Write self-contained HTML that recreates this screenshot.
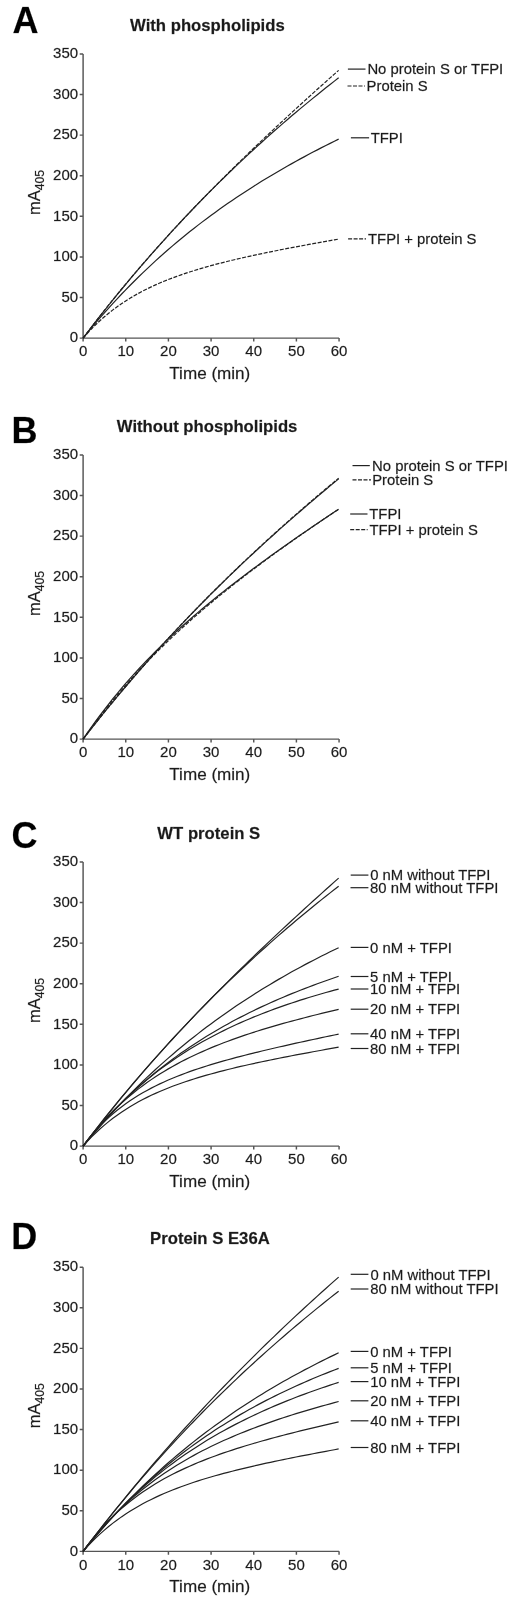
<!DOCTYPE html>
<html><head><meta charset="utf-8"><title>Figure</title>
<style>html,body{margin:0;padding:0;background:#fff;}svg{display:block;will-change:transform;}text{font-family:"Liberation Sans",sans-serif;fill:#1a1a1a;stroke:#222;stroke-width:0.35px;stroke-opacity:0.55;}.tk{font-size:15.0px;}.lg{font-size:14.85px;}.lb{font-size:17.1px;}.tt{font-size:16.7px;font-weight:bold;}.pl{font-size:36px;font-weight:bold;fill:#000;}.ax{stroke:#555;stroke-width:1.45;fill:none;}.cv{stroke:#222;stroke-width:1.2;fill:none;}.ds{stroke-dasharray:4 1.5;}</style></head><body>
<svg width="520" height="1603" viewBox="0 0 520 1603">
<rect width="520" height="1603" fill="#fff"/>
<g>
<text class="pl" x="12.5" y="33.2">A</text>
<text class="tt" x="207.4" y="30.6" text-anchor="middle">With phospholipids</text>
<path class="ax" d="M83.10 53.90V338.10H339.06M79.70 338.10H83.10M79.70 297.50H83.10M79.70 256.90H83.10M79.70 216.30H83.10M79.70 175.70H83.10M79.70 135.10H83.10M79.70 94.50H83.10M79.70 53.90H83.10M83.10 338.10V341.50M125.76 338.10V341.50M168.42 338.10V341.50M211.08 338.10V341.50M253.74 338.10V341.50M296.40 338.10V341.50M339.06 338.10V341.50"/>
<text class="tk" x="78.1" y="342.4" text-anchor="end">0</text>
<text class="tk" x="78.1" y="301.8" text-anchor="end">50</text>
<text class="tk" x="78.1" y="261.2" text-anchor="end">100</text>
<text class="tk" x="78.1" y="220.6" text-anchor="end">150</text>
<text class="tk" x="78.1" y="180.0" text-anchor="end">200</text>
<text class="tk" x="78.1" y="139.4" text-anchor="end">250</text>
<text class="tk" x="78.1" y="98.8" text-anchor="end">300</text>
<text class="tk" x="78.1" y="58.2" text-anchor="end">350</text>
<text class="tk" x="83.1" y="356.3" text-anchor="middle">0</text>
<text class="tk" x="125.8" y="356.3" text-anchor="middle">10</text>
<text class="tk" x="168.4" y="356.3" text-anchor="middle">20</text>
<text class="tk" x="211.1" y="356.3" text-anchor="middle">30</text>
<text class="tk" x="253.7" y="356.3" text-anchor="middle">40</text>
<text class="tk" x="296.4" y="356.3" text-anchor="middle">50</text>
<text class="tk" x="339.1" y="356.3" text-anchor="middle">60</text>
<text class="lb" x="209.8" y="379.0" text-anchor="middle">Time (min)</text>
<text class="lb" style="font-size:16.5px" transform="translate(40.1 215.0) rotate(-90)">mA<tspan dy="3.5" font-size="12.2">405</tspan></text>
<polyline class="cv" points="83.10,338.10 87.36,332.50 91.62,326.94 95.88,321.44 100.14,315.99 104.39,310.59 108.65,305.25 112.91,299.95 117.17,294.70 121.43,289.50 125.69,284.34 129.95,279.24 134.21,274.18 138.47,269.17 142.73,264.20 146.99,259.28 151.24,254.41 155.50,249.57 159.76,244.79 164.02,240.04 168.28,235.34 172.54,230.69 176.80,226.07 181.06,221.50 185.32,216.96 189.57,212.47 193.83,208.02 198.09,203.61 202.35,199.24 206.61,194.91 210.87,190.61 215.13,186.36 219.39,182.14 223.65,177.96 227.91,173.81 232.16,169.71 236.42,165.63 240.68,161.60 244.94,157.60 249.20,153.63 253.46,149.70 257.72,145.81 261.98,141.95 266.24,138.12 270.50,134.32 274.75,130.56 279.01,126.83 283.27,123.13 287.53,119.47 291.79,115.83 296.05,112.23 300.31,108.65 304.57,105.11 308.83,101.60 313.09,98.11 317.35,94.66 321.60,91.24 325.86,87.84 330.12,84.47 334.38,81.14 338.64,77.82"/>
<polyline class="cv ds" points="83.10,338.10 87.36,332.42 91.62,326.81 95.88,321.26 100.14,315.78 104.39,310.35 108.65,304.99 112.91,299.69 117.17,294.44 121.43,289.25 125.69,284.11 129.95,279.03 134.21,273.99 138.47,269.00 142.73,264.06 146.99,259.17 151.24,254.32 155.50,249.51 159.76,244.75 164.02,240.03 168.28,235.34 172.54,230.70 176.80,226.09 181.06,221.52 185.32,216.99 189.57,212.49 193.83,208.02 198.09,203.58 202.35,199.18 206.61,194.80 210.87,190.46 215.13,186.14 219.39,181.86 223.65,177.60 227.91,173.36 232.16,169.15 236.42,164.97 240.68,160.81 244.94,156.67 249.20,152.55 253.46,148.46 257.72,144.39 261.98,140.34 266.24,136.31 270.50,132.30 274.75,128.31 279.01,124.33 283.27,120.38 287.53,116.44 291.79,112.52 296.05,108.61 300.31,104.72 304.57,100.85 308.83,96.99 313.09,93.14 317.35,89.31 321.60,85.49 325.86,81.69 330.12,77.90 334.38,74.12 338.64,70.36"/>
<polyline class="cv" points="83.10,338.10 87.36,332.86 91.62,327.72 95.88,322.67 100.14,317.72 104.39,312.86 108.65,308.09 112.91,303.40 117.17,298.80 121.43,294.28 125.69,289.85 129.95,285.49 134.21,281.21 138.47,277.01 142.73,272.88 146.99,268.82 151.24,264.83 155.50,260.91 159.76,257.06 164.02,253.27 168.28,249.55 172.54,245.88 176.80,242.28 181.06,238.74 185.32,235.26 189.57,231.84 193.83,228.46 198.09,225.15 202.35,221.89 206.61,218.67 210.87,215.51 215.13,212.40 219.39,209.34 223.65,206.32 227.91,203.35 232.16,200.42 236.42,197.54 240.68,194.70 244.94,191.90 249.20,189.14 253.46,186.43 257.72,183.75 261.98,181.11 266.24,178.50 270.50,175.93 274.75,173.40 279.01,170.90 283.27,168.44 287.53,166.01 291.79,163.61 296.05,161.24 300.31,158.90 304.57,156.60 308.83,154.32 313.09,152.07 317.35,149.85 321.60,147.65 325.86,145.48 330.12,143.34 334.38,141.23 338.64,139.13"/>
<polyline class="cv ds" points="83.10,338.10 87.36,333.29 91.62,328.77 95.88,324.52 100.14,320.53 104.39,316.77 108.65,313.23 112.91,309.89 117.17,306.74 121.43,303.76 125.69,300.95 129.95,298.28 134.21,295.76 138.47,293.37 142.73,291.10 146.99,288.94 151.24,286.88 155.50,284.92 159.76,283.05 164.02,281.26 168.28,279.55 172.54,277.92 176.80,276.35 181.06,274.84 185.32,273.39 189.57,271.99 193.83,270.64 198.09,269.34 202.35,268.08 206.61,266.86 210.87,265.68 215.13,264.53 219.39,263.42 223.65,262.33 227.91,261.27 232.16,260.24 236.42,259.23 240.68,258.24 244.94,257.27 249.20,256.33 253.46,255.40 257.72,254.48 261.98,253.58 266.24,252.70 270.50,251.83 274.75,250.97 279.01,250.12 283.27,249.28 287.53,248.46 291.79,247.64 296.05,246.83 300.31,246.03 304.57,245.23 308.83,244.44 313.09,243.66 317.35,242.88 321.60,242.11 325.86,241.35 330.12,240.59 334.38,239.83 338.64,239.08"/>
<path class="cv" d="M347.9 69.1H365.5"/>
<text class="lg" x="367.4" y="74.3">No protein S or TFPI</text>
<path class="cv ds" d="M347.5 86.0H364.9"/>
<text class="lg" x="366.6" y="91.2">Protein S</text>
<path class="cv" d="M350.9 137.8H369.1"/>
<text class="lg" x="370.7" y="143.0">TFPI</text>
<path class="cv ds" d="M348.1 238.8H366.0"/>
<text class="lg" x="368.0" y="244.0">TFPI + protein S</text>
</g>
<g>
<text class="pl" x="11.5" y="442.5">B</text>
<text class="tt" x="207.1" y="431.6" text-anchor="middle">Without phospholipids</text>
<path class="ax" d="M83.10 454.90V739.10H339.06M79.70 739.10H83.10M79.70 698.50H83.10M79.70 657.90H83.10M79.70 617.30H83.10M79.70 576.70H83.10M79.70 536.10H83.10M79.70 495.50H83.10M79.70 454.90H83.10M83.10 739.10V742.50M125.76 739.10V742.50M168.42 739.10V742.50M211.08 739.10V742.50M253.74 739.10V742.50M296.40 739.10V742.50M339.06 739.10V742.50"/>
<text class="tk" x="78.1" y="743.4" text-anchor="end">0</text>
<text class="tk" x="78.1" y="702.8" text-anchor="end">50</text>
<text class="tk" x="78.1" y="662.2" text-anchor="end">100</text>
<text class="tk" x="78.1" y="621.6" text-anchor="end">150</text>
<text class="tk" x="78.1" y="581.0" text-anchor="end">200</text>
<text class="tk" x="78.1" y="540.4" text-anchor="end">250</text>
<text class="tk" x="78.1" y="499.8" text-anchor="end">300</text>
<text class="tk" x="78.1" y="459.2" text-anchor="end">350</text>
<text class="tk" x="83.1" y="757.3" text-anchor="middle">0</text>
<text class="tk" x="125.8" y="757.3" text-anchor="middle">10</text>
<text class="tk" x="168.4" y="757.3" text-anchor="middle">20</text>
<text class="tk" x="211.1" y="757.3" text-anchor="middle">30</text>
<text class="tk" x="253.7" y="757.3" text-anchor="middle">40</text>
<text class="tk" x="296.4" y="757.3" text-anchor="middle">50</text>
<text class="tk" x="339.1" y="757.3" text-anchor="middle">60</text>
<text class="lb" x="209.8" y="780.0" text-anchor="middle">Time (min)</text>
<text class="lb" style="font-size:16.5px" transform="translate(40.1 616.0) rotate(-90)">mA<tspan dy="3.5" font-size="12.2">405</tspan></text>
<polyline class="cv" points="83.10,739.10 87.36,733.61 91.62,728.18 95.88,722.79 100.14,717.46 104.39,712.18 108.65,706.94 112.91,701.76 117.17,696.62 121.43,691.54 125.69,686.49 129.95,681.49 134.21,676.54 138.47,671.63 142.73,666.77 146.99,661.94 151.24,657.16 155.50,652.42 159.76,647.72 164.02,643.06 168.28,638.43 172.54,633.85 176.80,629.30 181.06,624.79 185.32,620.32 189.57,615.88 193.83,611.48 198.09,607.11 202.35,602.77 206.61,598.47 210.87,594.20 215.13,589.96 219.39,585.76 223.65,581.58 227.91,577.44 232.16,573.33 236.42,569.24 240.68,565.19 244.94,561.16 249.20,557.16 253.46,553.19 257.72,549.24 261.98,545.32 266.24,541.43 270.50,537.57 274.75,533.72 279.01,529.91 283.27,526.12 287.53,522.35 291.79,518.60 296.05,514.88 300.31,511.18 304.57,507.50 308.83,503.85 313.09,500.22 317.35,496.60 321.60,493.01 325.86,489.44 330.12,485.89 334.38,482.36 338.64,478.85"/>
<polyline class="cv ds" points="83.10,739.10 87.36,733.63 91.62,728.20 95.88,722.83 100.14,717.51 104.39,712.23 108.65,707.01 112.91,701.82 117.17,696.69 121.43,691.60 125.69,686.55 129.95,681.55 134.21,676.59 138.47,671.68 142.73,666.80 146.99,661.97 151.24,657.18 155.50,652.43 159.76,647.71 164.02,643.04 168.28,638.40 172.54,633.80 176.80,629.24 181.06,624.72 185.32,620.22 189.57,615.77 193.83,611.35 198.09,606.96 202.35,602.61 206.61,598.29 210.87,594.00 215.13,589.75 219.39,585.52 223.65,581.33 227.91,577.17 232.16,573.03 236.42,568.93 240.68,564.85 244.94,560.81 249.20,556.79 253.46,552.80 257.72,548.84 261.98,544.90 266.24,540.99 270.50,537.11 274.75,533.25 279.01,529.42 283.27,525.61 287.53,521.83 291.79,518.07 296.05,514.33 300.31,510.62 304.57,506.93 308.83,503.26 313.09,499.62 317.35,496.00 321.60,492.40 325.86,488.82 330.12,485.26 334.38,481.72 338.64,478.20"/>
<polyline class="cv" points="83.10,739.10 87.36,732.86 91.62,726.79 95.88,720.88 100.14,715.13 104.39,709.52 108.65,704.05 112.91,698.72 117.17,693.52 121.43,688.44 125.69,683.47 129.95,678.62 134.21,673.87 138.47,669.22 142.73,664.66 146.99,660.20 151.24,655.82 155.50,651.53 159.76,647.32 164.02,643.18 168.28,639.11 172.54,635.11 176.80,631.17 181.06,627.30 185.32,623.48 189.57,619.73 193.83,616.02 198.09,612.37 202.35,608.76 206.61,605.20 210.87,601.69 215.13,598.22 219.39,594.78 223.65,591.39 227.91,588.03 232.16,584.71 236.42,581.41 240.68,578.16 244.94,574.93 249.20,571.73 253.46,568.55 257.72,565.40 261.98,562.28 266.24,559.18 270.50,556.10 274.75,553.05 279.01,550.01 283.27,547.00 287.53,544.00 291.79,541.02 296.05,538.06 300.31,535.11 304.57,532.18 308.83,529.26 313.09,526.36 317.35,523.46 321.60,520.59 325.86,517.72 330.12,514.87 334.38,512.02 338.64,509.19"/>
<polyline class="cv ds" points="83.10,739.10 87.36,733.15 91.62,727.33 95.88,721.65 100.14,716.09 104.39,710.66 108.65,705.34 112.91,700.14 117.17,695.04 121.43,690.05 125.69,685.15 129.95,680.35 134.21,675.65 138.47,671.02 142.73,666.49 146.99,662.03 151.24,657.65 155.50,653.35 159.76,649.12 164.02,644.95 168.28,640.85 172.54,636.81 176.80,632.84 181.06,628.92 185.32,625.06 189.57,621.25 193.83,617.49 198.09,613.78 202.35,610.12 206.61,606.50 210.87,602.92 215.13,599.39 219.39,595.90 223.65,592.44 227.91,589.02 232.16,585.64 236.42,582.29 240.68,578.98 244.94,575.69 249.20,572.43 253.46,569.21 257.72,566.01 261.98,562.83 266.24,559.68 270.50,556.56 274.75,553.46 279.01,550.38 283.27,547.32 287.53,544.29 291.79,541.27 296.05,538.27 300.31,535.29 304.57,532.33 308.83,529.38 313.09,526.45 317.35,523.54 321.60,520.64 325.86,517.75 330.12,514.88 334.38,512.02 338.64,509.18"/>
<path class="cv" d="M352.5 465.6H369.8"/>
<text class="lg" x="372.1" y="470.8">No protein S or TFPI</text>
<path class="cv ds" d="M352.5 479.8H371.0"/>
<text class="lg" x="372.2" y="485.0">Protein S</text>
<path class="cv" d="M350.2 514.0H367.5"/>
<text class="lg" x="369.3" y="519.2">TFPI</text>
<path class="cv ds" d="M350.2 529.6H367.6"/>
<text class="lg" x="369.4" y="534.8">TFPI + protein S</text>
</g>
<g>
<text class="pl" x="11.5" y="848.0">C</text>
<text class="tt" x="208.8" y="838.6" text-anchor="middle">WT protein S</text>
<path class="ax" d="M83.10 861.90V1146.10H339.06M79.70 1146.10H83.10M79.70 1105.50H83.10M79.70 1064.90H83.10M79.70 1024.30H83.10M79.70 983.70H83.10M79.70 943.10H83.10M79.70 902.50H83.10M79.70 861.90H83.10M83.10 1146.10V1149.50M125.76 1146.10V1149.50M168.42 1146.10V1149.50M211.08 1146.10V1149.50M253.74 1146.10V1149.50M296.40 1146.10V1149.50M339.06 1146.10V1149.50"/>
<text class="tk" x="78.1" y="1150.4" text-anchor="end">0</text>
<text class="tk" x="78.1" y="1109.8" text-anchor="end">50</text>
<text class="tk" x="78.1" y="1069.2" text-anchor="end">100</text>
<text class="tk" x="78.1" y="1028.6" text-anchor="end">150</text>
<text class="tk" x="78.1" y="988.0" text-anchor="end">200</text>
<text class="tk" x="78.1" y="947.4" text-anchor="end">250</text>
<text class="tk" x="78.1" y="906.8" text-anchor="end">300</text>
<text class="tk" x="78.1" y="866.2" text-anchor="end">350</text>
<text class="tk" x="83.1" y="1164.3" text-anchor="middle">0</text>
<text class="tk" x="125.8" y="1164.3" text-anchor="middle">10</text>
<text class="tk" x="168.4" y="1164.3" text-anchor="middle">20</text>
<text class="tk" x="211.1" y="1164.3" text-anchor="middle">30</text>
<text class="tk" x="253.7" y="1164.3" text-anchor="middle">40</text>
<text class="tk" x="296.4" y="1164.3" text-anchor="middle">50</text>
<text class="tk" x="339.1" y="1164.3" text-anchor="middle">60</text>
<text class="lb" x="209.8" y="1187.0" text-anchor="middle">Time (min)</text>
<text class="lb" style="font-size:16.5px" transform="translate(40.1 1023.0) rotate(-90)">mA<tspan dy="3.5" font-size="12.2">405</tspan></text>
<polyline class="cv" points="83.10,1146.10 87.36,1140.45 91.62,1134.87 95.88,1129.35 100.14,1123.89 104.39,1118.49 108.65,1113.16 112.91,1107.87 117.17,1102.65 121.43,1097.47 125.69,1092.35 129.95,1087.28 134.21,1082.26 138.47,1077.28 142.73,1072.35 146.99,1067.47 151.24,1062.62 155.50,1057.82 159.76,1053.07 164.02,1048.35 168.28,1043.67 172.54,1039.02 176.80,1034.42 181.06,1029.85 185.32,1025.31 189.57,1020.81 193.83,1016.33 198.09,1011.89 202.35,1007.48 206.61,1003.10 210.87,998.75 215.13,994.43 219.39,990.13 223.65,985.86 227.91,981.62 232.16,977.39 236.42,973.20 240.68,969.03 244.94,964.87 249.20,960.75 253.46,956.64 257.72,952.55 261.98,948.49 266.24,944.44 270.50,940.41 274.75,936.40 279.01,932.41 283.27,928.43 287.53,924.48 291.79,920.53 296.05,916.61 300.31,912.70 304.57,908.80 308.83,904.92 313.09,901.06 317.35,897.20 321.60,893.36 325.86,889.54 330.12,885.72 334.38,881.92 338.64,878.13"/>
<polyline class="cv" points="83.10,1146.10 87.36,1140.52 91.62,1135.00 95.88,1129.52 100.14,1124.10 104.39,1118.72 108.65,1113.39 112.91,1108.11 117.17,1102.88 121.43,1097.70 125.69,1092.56 129.95,1087.47 134.21,1082.42 138.47,1077.42 142.73,1072.46 146.99,1067.55 151.24,1062.69 155.50,1057.86 159.76,1053.08 164.02,1048.35 168.28,1043.65 172.54,1039.00 176.80,1034.39 181.06,1029.82 185.32,1025.29 189.57,1020.80 193.83,1016.35 198.09,1011.94 202.35,1007.57 206.61,1003.24 210.87,998.95 215.13,994.69 219.39,990.47 223.65,986.29 227.91,982.15 232.16,978.04 236.42,973.97 240.68,969.94 244.94,965.94 249.20,961.97 253.46,958.04 257.72,954.15 261.98,950.29 266.24,946.46 270.50,942.66 274.75,938.90 279.01,935.17 283.27,931.48 287.53,927.82 291.79,924.18 296.05,920.58 300.31,917.01 304.57,913.47 308.83,909.97 313.09,906.49 317.35,903.04 321.60,899.62 325.86,896.23 330.12,892.87 334.38,889.54 338.64,886.24"/>
<polyline class="cv" points="83.10,1146.10 87.36,1140.95 91.62,1135.90 95.88,1130.93 100.14,1126.04 104.39,1121.24 108.65,1116.52 112.91,1111.88 117.17,1107.31 121.43,1102.82 125.69,1098.41 129.95,1094.08 134.21,1089.81 138.47,1085.61 142.73,1081.49 146.99,1077.43 151.24,1073.44 155.50,1069.52 159.76,1065.66 164.02,1061.86 168.28,1058.12 172.54,1054.45 176.80,1050.83 181.06,1047.27 185.32,1043.77 189.57,1040.33 193.83,1036.93 198.09,1033.60 202.35,1030.31 206.61,1027.08 210.87,1023.90 215.13,1020.77 219.39,1017.68 223.65,1014.65 227.91,1011.66 232.16,1008.72 236.42,1005.82 240.68,1002.96 244.94,1000.15 249.20,997.38 253.46,994.66 257.72,991.97 261.98,989.32 266.24,986.72 270.50,984.15 274.75,981.62 279.01,979.12 283.27,976.67 287.53,974.24 291.79,971.85 296.05,969.50 300.31,967.18 304.57,964.89 308.83,962.64 313.09,960.41 317.35,958.22 321.60,956.06 325.86,953.92 330.12,951.82 334.38,949.75 338.64,947.70"/>
<polyline class="cv" points="83.10,1146.10 87.36,1140.81 91.62,1135.66 95.88,1130.65 100.14,1125.76 104.39,1121.00 108.65,1116.37 112.91,1111.85 117.17,1107.45 121.43,1103.16 125.69,1098.97 129.95,1094.90 134.21,1090.92 138.47,1087.05 142.73,1083.26 146.99,1079.58 151.24,1075.98 155.50,1072.47 159.76,1069.05 164.02,1065.70 168.28,1062.44 172.54,1059.25 176.80,1056.14 181.06,1053.11 185.32,1050.14 189.57,1047.24 193.83,1044.41 198.09,1041.64 202.35,1038.93 206.61,1036.29 210.87,1033.70 215.13,1031.17 219.39,1028.70 223.65,1026.28 227.91,1023.91 232.16,1021.59 236.42,1019.32 240.68,1017.10 244.94,1014.93 249.20,1012.80 253.46,1010.71 257.72,1008.66 261.98,1006.66 266.24,1004.69 270.50,1002.76 274.75,1000.87 279.01,999.02 283.27,997.20 287.53,995.41 291.79,993.66 296.05,991.94 300.31,990.25 304.57,988.59 308.83,986.96 313.09,985.36 317.35,983.78 321.60,982.23 325.86,980.71 330.12,979.21 334.38,977.74 338.64,976.29"/>
<polyline class="cv" points="83.10,1146.10 87.36,1140.64 91.62,1135.34 95.88,1130.21 100.14,1125.24 104.39,1120.43 108.65,1115.76 112.91,1111.23 117.17,1106.84 121.43,1102.59 125.69,1098.47 129.95,1094.46 134.21,1090.58 138.47,1086.82 142.73,1083.17 146.99,1079.62 151.24,1076.18 155.50,1072.84 159.76,1069.60 164.02,1066.45 168.28,1063.39 172.54,1060.42 176.80,1057.54 181.06,1054.73 185.32,1052.01 189.57,1049.36 193.83,1046.78 198.09,1044.28 202.35,1041.84 206.61,1039.47 210.87,1037.16 215.13,1034.92 219.39,1032.73 223.65,1030.61 227.91,1028.54 232.16,1026.52 236.42,1024.55 240.68,1022.63 244.94,1020.77 249.20,1018.95 253.46,1017.17 257.72,1015.44 261.98,1013.74 266.24,1012.09 270.50,1010.48 274.75,1008.91 279.01,1007.37 283.27,1005.87 287.53,1004.40 291.79,1002.97 296.05,1001.56 300.31,1000.19 304.57,998.85 308.83,997.53 313.09,996.25 317.35,994.98 321.60,993.75 325.86,992.54 330.12,991.35 334.38,990.19 338.64,989.05"/>
<polyline class="cv" points="83.10,1146.10 87.36,1140.39 91.62,1134.95 95.88,1129.75 100.14,1124.79 104.39,1120.05 108.65,1115.52 112.91,1111.19 117.17,1107.06 121.43,1103.09 125.69,1099.30 129.95,1095.67 134.21,1092.19 138.47,1088.85 142.73,1085.65 146.99,1082.57 151.24,1079.62 155.50,1076.78 159.76,1074.05 164.02,1071.42 168.28,1068.89 172.54,1066.45 176.80,1064.10 181.06,1061.84 185.32,1059.64 189.57,1057.53 193.83,1055.48 198.09,1053.50 202.35,1051.58 206.61,1049.72 210.87,1047.92 215.13,1046.17 219.39,1044.47 223.65,1042.81 227.91,1041.21 232.16,1039.64 236.42,1038.12 240.68,1036.63 244.94,1035.18 249.20,1033.76 253.46,1032.37 257.72,1031.02 261.98,1029.69 266.24,1028.39 270.50,1027.12 274.75,1025.87 279.01,1024.65 283.27,1023.45 287.53,1022.26 291.79,1021.10 296.05,1019.96 300.31,1018.83 304.57,1017.72 308.83,1016.62 313.09,1015.54 317.35,1014.48 321.60,1013.43 325.86,1012.39 330.12,1011.36 334.38,1010.34 338.64,1009.34"/>
<polyline class="cv" points="83.10,1146.10 87.36,1140.53 91.62,1135.32 95.88,1130.44 100.14,1125.88 104.39,1121.60 108.65,1117.58 112.91,1113.80 117.17,1110.26 121.43,1106.91 125.69,1103.76 129.95,1100.79 134.21,1097.97 138.47,1095.31 142.73,1092.79 146.99,1090.40 151.24,1088.12 155.50,1085.96 159.76,1083.89 164.02,1081.92 168.28,1080.03 172.54,1078.23 176.80,1076.50 181.06,1074.83 185.32,1073.23 189.57,1071.68 193.83,1070.19 198.09,1068.75 202.35,1067.35 206.61,1066.00 210.87,1064.68 215.13,1063.40 219.39,1062.16 223.65,1060.94 227.91,1059.75 232.16,1058.59 236.42,1057.45 240.68,1056.33 244.94,1055.24 249.20,1054.16 253.46,1053.10 257.72,1052.06 261.98,1051.03 266.24,1050.01 270.50,1049.01 274.75,1048.02 279.01,1047.04 283.27,1046.07 287.53,1045.11 291.79,1044.16 296.05,1043.21 300.31,1042.28 304.57,1041.35 308.83,1040.42 313.09,1039.50 317.35,1038.59 321.60,1037.68 325.86,1036.78 330.12,1035.88 334.38,1034.98 338.64,1034.09"/>
<polyline class="cv" points="83.10,1146.10 87.36,1141.38 91.62,1136.94 95.88,1132.76 100.14,1128.82 104.39,1125.10 108.65,1121.60 112.91,1118.29 117.17,1115.16 121.43,1112.20 125.69,1109.40 129.95,1106.74 134.21,1104.22 138.47,1101.83 142.73,1099.56 146.99,1097.39 151.24,1095.33 155.50,1093.36 159.76,1091.48 164.02,1089.68 168.28,1087.96 172.54,1086.31 176.80,1084.73 181.06,1083.21 185.32,1081.75 189.57,1080.33 193.83,1078.97 198.09,1077.66 202.35,1076.39 206.61,1075.16 210.87,1073.96 215.13,1072.80 219.39,1071.67 223.65,1070.58 227.91,1069.51 232.16,1068.46 236.42,1067.44 240.68,1066.45 244.94,1065.47 249.20,1064.52 253.46,1063.58 257.72,1062.66 261.98,1061.75 266.24,1060.86 270.50,1059.98 274.75,1059.12 279.01,1058.26 283.27,1057.42 287.53,1056.59 291.79,1055.77 296.05,1054.95 300.31,1054.15 304.57,1053.35 308.83,1052.56 313.09,1051.78 317.35,1051.00 321.60,1050.23 325.86,1049.46 330.12,1048.70 334.38,1047.94 338.64,1047.19"/>
<path class="cv" d="M350.7 875.1H368.4"/>
<text class="lg" x="370.2" y="880.3">0 nM without TFPI</text>
<path class="cv" d="M350.5 887.7H368.4"/>
<text class="lg" x="370.0" y="892.9">80 nM without TFPI</text>
<path class="cv" d="M350.7 947.4H368.4"/>
<text class="lg" x="370.1" y="952.6">0 nM + TFPI</text>
<path class="cv" d="M350.7 976.5H368.4"/>
<text class="lg" x="370.1" y="981.7">5 nM + TFPI</text>
<path class="cv" d="M350.7 989.0H368.4"/>
<text class="lg" x="370.1" y="994.2">10 nM + TFPI</text>
<path class="cv" d="M350.7 1009.2H368.4"/>
<text class="lg" x="370.1" y="1014.4">20 nM + TFPI</text>
<path class="cv" d="M350.7 1033.8H368.4"/>
<text class="lg" x="370.1" y="1039.0">40 nM + TFPI</text>
<path class="cv" d="M350.7 1048.5H368.4"/>
<text class="lg" x="370.1" y="1053.7">80 nM + TFPI</text>
</g>
<g>
<text class="pl" x="11.3" y="1248.8">D</text>
<text class="tt" x="209.9" y="1243.8" text-anchor="middle">Protein S E36A</text>
<path class="ax" d="M83.10 1267.15V1551.35H339.06M79.70 1551.35H83.10M79.70 1510.75H83.10M79.70 1470.15H83.10M79.70 1429.55H83.10M79.70 1388.95H83.10M79.70 1348.35H83.10M79.70 1307.75H83.10M79.70 1267.15H83.10M83.10 1551.35V1554.75M125.76 1551.35V1554.75M168.42 1551.35V1554.75M211.08 1551.35V1554.75M253.74 1551.35V1554.75M296.40 1551.35V1554.75M339.06 1551.35V1554.75"/>
<text class="tk" x="78.1" y="1555.6" text-anchor="end">0</text>
<text class="tk" x="78.1" y="1515.0" text-anchor="end">50</text>
<text class="tk" x="78.1" y="1474.4" text-anchor="end">100</text>
<text class="tk" x="78.1" y="1433.8" text-anchor="end">150</text>
<text class="tk" x="78.1" y="1393.2" text-anchor="end">200</text>
<text class="tk" x="78.1" y="1352.6" text-anchor="end">250</text>
<text class="tk" x="78.1" y="1312.0" text-anchor="end">300</text>
<text class="tk" x="78.1" y="1271.4" text-anchor="end">350</text>
<text class="tk" x="83.1" y="1569.5" text-anchor="middle">0</text>
<text class="tk" x="125.8" y="1569.5" text-anchor="middle">10</text>
<text class="tk" x="168.4" y="1569.5" text-anchor="middle">20</text>
<text class="tk" x="211.1" y="1569.5" text-anchor="middle">30</text>
<text class="tk" x="253.7" y="1569.5" text-anchor="middle">40</text>
<text class="tk" x="296.4" y="1569.5" text-anchor="middle">50</text>
<text class="tk" x="339.1" y="1569.5" text-anchor="middle">60</text>
<text class="lb" x="209.8" y="1592.2" text-anchor="middle">Time (min)</text>
<text class="lb" style="font-size:16.5px" transform="translate(40.1 1428.2) rotate(-90)">mA<tspan dy="3.5" font-size="12.2">405</tspan></text>
<polyline class="cv" points="83.10,1551.35 87.36,1545.72 91.62,1540.14 95.88,1534.60 100.14,1529.10 104.39,1523.65 108.65,1518.25 112.91,1512.88 117.17,1507.56 121.43,1502.28 125.69,1497.05 129.95,1491.85 134.21,1486.69 138.47,1481.58 142.73,1476.50 146.99,1471.46 151.24,1466.46 155.50,1461.50 159.76,1456.57 164.02,1451.68 168.28,1446.82 172.54,1442.00 176.80,1437.22 181.06,1432.47 185.32,1427.76 189.57,1423.07 193.83,1418.43 198.09,1413.81 202.35,1409.23 206.61,1404.67 210.87,1400.15 215.13,1395.66 219.39,1391.20 223.65,1386.77 227.91,1382.37 232.16,1378.00 236.42,1373.66 240.68,1369.35 244.94,1365.06 249.20,1360.80 253.46,1356.57 257.72,1352.37 261.98,1348.19 266.24,1344.04 270.50,1339.91 274.75,1335.81 279.01,1331.74 283.27,1327.69 287.53,1323.66 291.79,1319.66 296.05,1315.68 300.31,1311.73 304.57,1307.80 308.83,1303.89 313.09,1300.00 317.35,1296.14 321.60,1292.29 325.86,1288.47 330.12,1284.67 334.38,1280.90 338.64,1277.14"/>
<polyline class="cv" points="83.10,1551.35 87.36,1545.70 91.62,1540.11 95.88,1534.58 100.14,1529.10 104.39,1523.68 108.65,1518.31 112.91,1512.99 117.17,1507.73 121.43,1502.52 125.69,1497.36 129.95,1492.25 134.21,1487.20 138.47,1482.19 142.73,1477.23 146.99,1472.32 151.24,1467.45 155.50,1462.63 159.76,1457.86 164.02,1453.13 168.28,1448.45 172.54,1443.81 176.80,1439.21 181.06,1434.65 185.32,1430.14 189.57,1425.67 193.83,1421.24 198.09,1416.85 202.35,1412.50 206.61,1408.19 210.87,1403.92 215.13,1399.68 219.39,1395.49 223.65,1391.33 227.91,1387.20 232.16,1383.12 236.42,1379.06 240.68,1375.05 244.94,1371.06 249.20,1367.11 253.46,1363.20 257.72,1359.31 261.98,1355.46 266.24,1351.64 270.50,1347.86 274.75,1344.10 279.01,1340.37 283.27,1336.68 287.53,1333.01 291.79,1329.38 296.05,1325.77 300.31,1322.19 304.57,1318.64 308.83,1315.12 313.09,1311.62 317.35,1308.15 321.60,1304.71 325.86,1301.29 330.12,1297.90 334.38,1294.54 338.64,1291.20"/>
<polyline class="cv" points="83.10,1551.35 87.36,1546.15 91.62,1541.03 95.88,1536.01 100.14,1531.08 104.39,1526.23 108.65,1521.47 112.91,1516.79 117.17,1512.20 121.43,1507.68 125.69,1503.24 129.95,1498.88 134.21,1494.59 138.47,1490.38 142.73,1486.23 146.99,1482.16 151.24,1478.16 155.50,1474.22 159.76,1470.35 164.02,1466.55 168.28,1462.81 172.54,1459.13 176.80,1455.51 181.06,1451.95 185.32,1448.45 189.57,1445.01 193.83,1441.62 198.09,1438.29 202.35,1435.01 206.61,1431.79 210.87,1428.61 215.13,1425.49 219.39,1422.42 223.65,1419.39 227.91,1416.41 232.16,1413.48 236.42,1410.59 240.68,1407.75 244.94,1404.95 249.20,1402.20 253.46,1399.49 257.72,1396.81 261.98,1394.18 266.24,1391.59 270.50,1389.04 274.75,1386.52 279.01,1384.04 283.27,1381.60 287.53,1379.19 291.79,1376.82 296.05,1374.48 300.31,1372.17 304.57,1369.90 308.83,1367.66 313.09,1365.45 317.35,1363.27 321.60,1361.12 325.86,1359.00 330.12,1356.91 334.38,1354.85 338.64,1352.81"/>
<polyline class="cv" points="83.10,1551.35 87.36,1546.06 91.62,1540.88 95.88,1535.81 100.14,1530.85 104.39,1526.00 108.65,1521.25 112.91,1516.61 117.17,1512.06 121.43,1507.61 125.69,1503.25 129.95,1498.99 134.21,1494.82 138.47,1490.73 142.73,1486.73 146.99,1482.81 151.24,1478.98 155.50,1475.23 159.76,1471.55 164.02,1467.95 168.28,1464.43 172.54,1460.98 176.80,1457.60 181.06,1454.29 185.32,1451.04 189.57,1447.87 193.83,1444.75 198.09,1441.70 202.35,1438.72 206.61,1435.79 210.87,1432.92 215.13,1430.11 219.39,1427.35 223.65,1424.65 227.91,1422.01 232.16,1419.41 236.42,1416.87 240.68,1414.38 244.94,1411.93 249.20,1409.53 253.46,1407.18 257.72,1404.88 261.98,1402.61 266.24,1400.40 270.50,1398.22 274.75,1396.09 279.01,1393.99 283.27,1391.94 287.53,1389.92 291.79,1387.94 296.05,1386.00 300.31,1384.09 304.57,1382.22 308.83,1380.38 313.09,1378.57 317.35,1376.80 321.60,1375.06 325.86,1373.35 330.12,1371.67 334.38,1370.02 338.64,1368.40"/>
<polyline class="cv" points="83.10,1551.35 87.36,1545.94 91.62,1540.68 95.88,1535.57 100.14,1530.59 104.39,1525.74 108.65,1521.03 112.91,1516.44 117.17,1511.97 121.43,1507.62 125.69,1503.38 129.95,1499.26 134.21,1495.24 138.47,1491.33 142.73,1487.52 146.99,1483.81 151.24,1480.19 155.50,1476.66 159.76,1473.22 164.02,1469.87 168.28,1466.61 172.54,1463.42 176.80,1460.32 181.06,1457.29 185.32,1454.33 189.57,1451.45 193.83,1448.64 198.09,1445.89 202.35,1443.21 206.61,1440.59 210.87,1438.03 215.13,1435.54 219.39,1433.10 223.65,1430.72 227.91,1428.39 232.16,1426.11 236.42,1423.89 240.68,1421.71 244.94,1419.59 249.20,1417.50 253.46,1415.47 257.72,1413.48 261.98,1411.53 266.24,1409.62 270.50,1407.75 274.75,1405.92 279.01,1404.13 283.27,1402.37 287.53,1400.65 291.79,1398.96 296.05,1397.31 300.31,1395.68 304.57,1394.09 308.83,1392.53 313.09,1391.00 317.35,1389.49 321.60,1388.02 325.86,1386.57 330.12,1385.14 334.38,1383.74 338.64,1382.37"/>
<polyline class="cv" points="83.10,1551.35 87.36,1545.77 91.62,1540.41 95.88,1535.24 100.14,1530.26 104.39,1525.46 108.65,1520.84 112.91,1516.38 117.17,1512.08 121.43,1507.94 125.69,1503.94 129.95,1500.08 134.21,1496.36 138.47,1492.76 142.73,1489.28 146.99,1485.92 151.24,1482.67 155.50,1479.53 159.76,1476.49 164.02,1473.55 168.28,1470.71 172.54,1467.95 176.80,1465.28 181.06,1462.69 185.32,1460.17 189.57,1457.74 193.83,1455.37 198.09,1453.07 202.35,1450.84 206.61,1448.67 210.87,1446.57 215.13,1444.51 219.39,1442.52 223.65,1440.57 227.91,1438.68 232.16,1436.83 236.42,1435.03 240.68,1433.28 244.94,1431.57 249.20,1429.89 253.46,1428.26 257.72,1426.66 261.98,1425.10 266.24,1423.57 270.50,1422.07 274.75,1420.60 279.01,1419.17 283.27,1417.76 287.53,1416.38 291.79,1415.02 296.05,1413.69 300.31,1412.38 304.57,1411.10 308.83,1409.83 313.09,1408.59 317.35,1407.37 321.60,1406.17 325.86,1404.98 330.12,1403.81 334.38,1402.66 338.64,1401.52"/>
<polyline class="cv" points="83.10,1551.35 87.36,1545.52 91.62,1540.00 95.88,1534.78 100.14,1529.82 104.39,1525.13 108.65,1520.67 112.91,1516.44 117.17,1512.41 121.43,1508.59 125.69,1504.95 129.95,1501.49 134.21,1498.18 138.47,1495.03 142.73,1492.03 146.99,1489.16 151.24,1486.41 155.50,1483.78 159.76,1481.26 164.02,1478.85 168.28,1476.53 172.54,1474.30 176.80,1472.16 181.06,1470.10 185.32,1468.12 189.57,1466.20 193.83,1464.35 198.09,1462.56 202.35,1460.83 206.61,1459.16 210.87,1457.53 215.13,1455.96 219.39,1454.42 223.65,1452.93 227.91,1451.48 232.16,1450.07 236.42,1448.69 240.68,1447.34 244.94,1446.02 249.20,1444.74 253.46,1443.47 257.72,1442.24 261.98,1441.02 266.24,1439.83 270.50,1438.66 274.75,1437.51 279.01,1436.38 283.27,1435.26 287.53,1434.16 291.79,1433.08 296.05,1432.01 300.31,1430.95 304.57,1429.90 308.83,1428.87 313.09,1427.84 317.35,1426.83 321.60,1425.83 325.86,1424.83 330.12,1423.84 334.38,1422.87 338.64,1421.89"/>
<polyline class="cv" points="83.10,1551.35 87.36,1546.59 91.62,1542.11 95.88,1537.87 100.14,1533.87 104.39,1530.09 108.65,1526.52 112.91,1523.13 117.17,1519.92 121.43,1516.88 125.69,1514.00 129.95,1511.26 134.21,1508.65 138.47,1506.18 142.73,1503.81 146.99,1501.56 151.24,1499.42 155.50,1497.36 159.76,1495.40 164.02,1493.52 168.28,1491.72 172.54,1489.99 176.80,1488.33 181.06,1486.73 185.32,1485.19 189.57,1483.71 193.83,1482.28 198.09,1480.89 202.35,1479.55 206.61,1478.26 210.87,1477.00 215.13,1475.78 219.39,1474.59 223.65,1473.43 227.91,1472.30 232.16,1471.21 236.42,1470.13 240.68,1469.08 244.94,1468.06 249.20,1467.05 253.46,1466.07 257.72,1465.10 261.98,1464.15 266.24,1463.21 270.50,1462.29 274.75,1461.39 279.01,1460.49 283.27,1459.61 287.53,1458.74 291.79,1457.88 296.05,1457.03 300.31,1456.19 304.57,1455.36 308.83,1454.54 313.09,1453.72 317.35,1452.91 321.60,1452.11 325.86,1451.31 330.12,1450.52 334.38,1449.74 338.64,1448.96"/>
<path class="cv" d="M350.7 1274.3H368.4"/>
<text class="lg" x="370.4" y="1279.5">0 nM without TFPI</text>
<path class="cv" d="M350.7 1289.0H368.4"/>
<text class="lg" x="370.2" y="1294.2">80 nM without TFPI</text>
<path class="cv" d="M350.7 1351.4H368.4"/>
<text class="lg" x="370.2" y="1356.6">0 nM + TFPI</text>
<path class="cv" d="M350.7 1367.8H368.4"/>
<text class="lg" x="370.2" y="1373.0">5 nM + TFPI</text>
<path class="cv" d="M350.7 1381.6H368.4"/>
<text class="lg" x="370.2" y="1386.8">10 nM + TFPI</text>
<path class="cv" d="M350.7 1400.8H368.4"/>
<text class="lg" x="370.2" y="1406.0">20 nM + TFPI</text>
<path class="cv" d="M350.7 1420.8H368.4"/>
<text class="lg" x="370.2" y="1426.0">40 nM + TFPI</text>
<path class="cv" d="M350.7 1447.5H368.4"/>
<text class="lg" x="370.2" y="1452.7">80 nM + TFPI</text>
</g>
</svg></body></html>
